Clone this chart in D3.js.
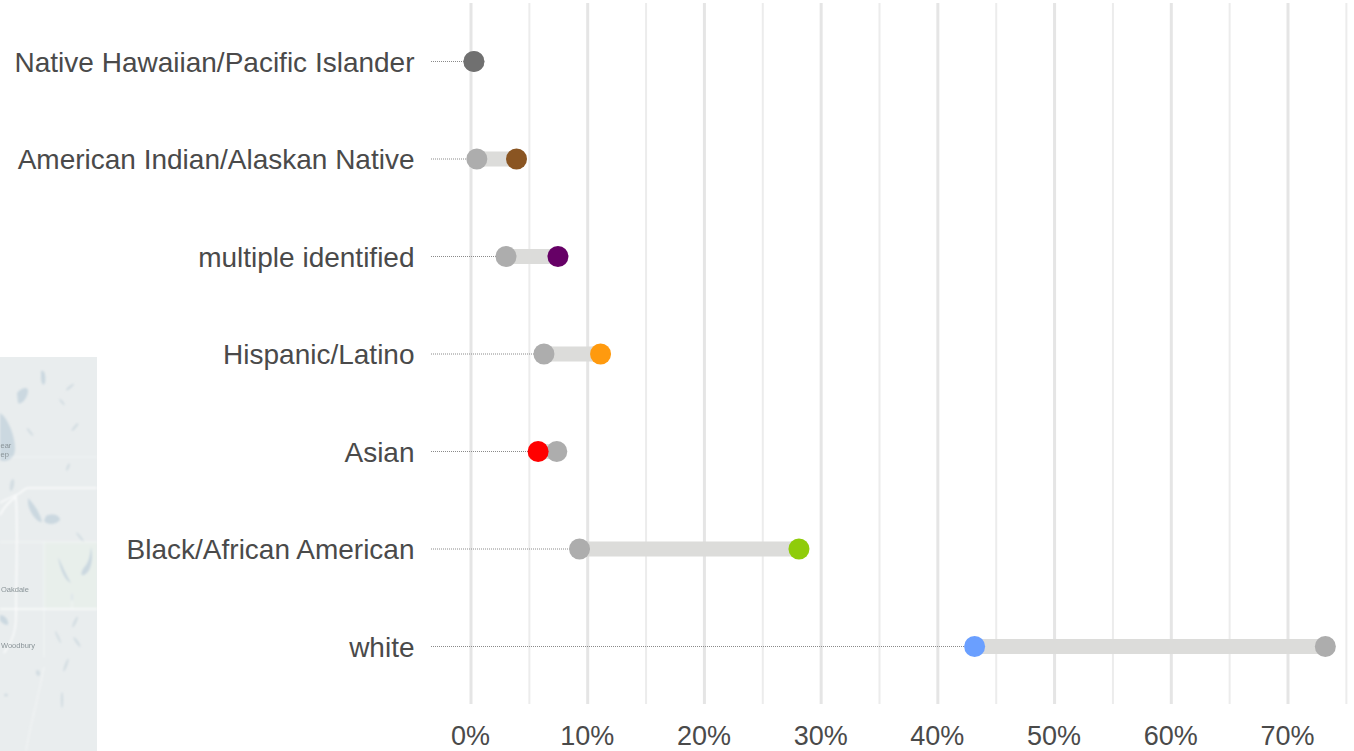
<!DOCTYPE html>
<html>
<head>
<meta charset="utf-8">
<style>
html,body{margin:0;padding:0;background:#fff;overflow:hidden}
svg{display:block}
text{font-family:"Liberation Sans",Arial,sans-serif;fill:#4a4a4a}
</style>
<script src="https://cdn.jsdelivr.net/npm/d3@7/dist/d3.min.js"></script>
</head>
<body>
<svg id="chart" width="1354" height="751"></svg>
<script>
// Share of each group, as percentages: the grey dot and the coloured dot per row.
const groups = ["Native Hawaiian/Pacific Islander","American Indian/Alaskan Native","multiple identified","Hispanic/Latino","Asian","Black/African American","white"];
const baseShare = [0.25,0.5,3.0,6.25,7.35,9.3,73.2];
const groupShare = [0.25,3.9,7.45,11.1,5.75,28.1,43.15];
const groupColors = ["#707070","#8a5522","#660066","#ff9a0e","#ff0000","#8fcc0a","#6a9fff"];
const majorTicks = [0,10,20,30,40,50,60,70];
const minorTicks = [5,15,25,35,45,55,65,75];

// Street-map fragment behind the lower left corner, in its own local units.
const mapLakes = [
  "M0,56 C7,60 15,78 15,92 C15,102 6,106 0,103Z",
  "M17,36 C22,30 29,29 28,35 C27,42 21,48 18,46Z",
  "M41,14 C45,12 46,20 45,26 C43,30 41,26 41,20Z",
  "M28,141 C33,146 40,155 42,165 C37,166 29,155 28,146Z",
  "M46,159 C52,156 60,158 60,163 C56,168 47,168 44,164Z",
  "M91,190 C94,204 90,216 84,218 C79,220 82,212 86,208 C90,202 90,196 91,190Z",
  "M58,200 C62,208 66,218 71,226 C65,224 60,212 58,200Z",
  "M0,258 C4,258 9,262 8,268 C4,268 1,265 0,263Z"
];
const mapSpecks = [
  {x:75,y:265,rx:1.4,ry:6,a:25},{x:77,y:285,rx:1.4,ry:6,a:-35},{x:66,y:308,rx:1.3,ry:7,a:20},
  {x:62,y:343,rx:1.2,ry:8,a:0},{x:38,y:316,rx:2,ry:3,a:-20},{x:58,y:280,rx:1,ry:7,a:-25},
  {x:70,y:30,rx:1.2,ry:5,a:50},{x:62,y:45,rx:1,ry:4,a:-40},{x:75,y:70,rx:1.2,ry:5,a:40},
  {x:30,y:75,rx:1,ry:5,a:-40},{x:68,y:110,rx:1.2,ry:4,a:20},{x:12,y:128,rx:2,ry:6,a:10},
  {x:80,y:180,rx:1,ry:6,a:-40},{x:72,y:240,rx:1,ry:4,a:0},{x:6,y:338,rx:2,ry:1.5,a:0}
];
const mapRoads = [
  {d:"M0,146 C6,142 12,140 16,138 C22,136 24,131 28,131 L97,131",w:1.4},
  {d:"M0,158 C4,150 10,144 16,140 C18,170 16,220 16,260 C16,275 12,285 4,296",w:1.6},
  {d:"M0,252 L97,252",w:1.5},
  {d:"M0,185 L97,185",w:0.6},
  {d:"M0,100 L97,100",w:0.4},
  {d:"M44,185 L44,300 M72,236 L72,252",w:0.5},
  {d:"M26,394 C30,370 36,350 44,310",w:0.6}
];
const mapTowns = [
  {name:"Oakdale",x:1,y:235},
  {name:"Woodbury",x:1,y:291},
  {name:"ear",x:0.5,y:91},
  {name:"ep",x:0.5,y:100}
];

const svg = d3.select("#chart");
const chartTop = 3, chartBottom = 704, firstRow = 61.5, lastRow = 646.5;
const x = d3.scaleLinear().domain([0,70]).range([471,1288]);
const y = d3.scalePoint().domain(groups).range([firstRow,lastRow]);

// Map fragment
const defs = svg.append("defs");
defs.append("filter").attr("id","soft").append("feGaussianBlur").attr("stdDeviation",0.8);
defs.append("filter").attr("id","softText").append("feGaussianBlur").attr("stdDeviation",0.25);
defs.append("clipPath").attr("id","mapClip").append("rect").attr("width",97).attr("height",394);
const map = svg.append("g").attr("transform","translate(0,357)");
map.append("rect").attr("width",97).attr("height",394).attr("fill","#e9edee");
const mapInner = map.append("g").attr("clip-path","url(#mapClip)").append("g").attr("filter","url(#soft)");
mapInner.append("rect").attr("x",44).attr("y",185).attr("width",53).attr("height",67).attr("fill","#e8efeb");
mapInner.selectAll("path.lake").data(mapLakes).join("path")
  .attr("class","lake").attr("d",d=>d).attr("fill","#cbd8e0");
mapInner.selectAll("ellipse").data(mapSpecks).join("ellipse")
  .attr("transform",d=>`translate(${d.x},${d.y}) rotate(${d.a})`)
  .attr("rx",d=>d.rx).attr("ry",d=>d.ry).attr("fill","#d3dde2");
mapInner.selectAll("path.road").data(mapRoads).join("path")
  .attr("class","road").attr("d",d=>d.d).attr("fill","none")
  .attr("stroke","#fbfcfc").attr("stroke-width",d=>d.w);
map.append("g").attr("filter","url(#softText)").selectAll("text").data(mapTowns).join("text")
  .attr("x",d=>d.x).attr("y",d=>d.y).attr("font-size",7.5)
  .style("fill","#8a9498").text(d=>d.name);

// Vertical grid
svg.append("g").selectAll("line.minor").data(minorTicks).join("line")
  .attr("class","minor").attr("x1",d=>x(d)).attr("x2",d=>x(d))
  .attr("y1",chartTop).attr("y2",chartBottom)
  .attr("stroke","#ececec").attr("stroke-width",2);
svg.append("g").selectAll("line.major").data(majorTicks).join("line")
  .attr("class","major").attr("x1",d=>x(d)).attr("x2",d=>x(d))
  .attr("y1",chartTop).attr("y2",chartBottom)
  .attr("stroke","#e5e5e5").attr("stroke-width",3);

// X axis labels
const xAxis = d3.axisBottom(x).tickValues(majorTicks).tickFormat(d=>d+"%").tickSize(0).tickPadding(0);
const axisG = svg.append("g").attr("transform","translate(-1,727)").call(xAxis);
axisG.select(".domain").remove();
axisG.selectAll("text").attr("font-size",27).attr("dy","0.65em").attr("y",0)
  .style("font-family","'Liberation Sans',Arial,sans-serif").style("fill","#4a4a4a");

const rows = groups.map((g,i)=>({g,base:baseShare[i],share:groupShare[i],color:groupColors[i]}));

// Dotted leader from the label to the leftmost dot
svg.append("g").selectAll("line").data(rows).join("line")
  .attr("x1",431).attr("x2",d=>x(Math.min(d.base,d.share)))
  .attr("y1",d=>y(d.g)).attr("y2",d=>y(d.g))
  .attr("stroke","#8a8a8a").attr("stroke-width",1).attr("stroke-dasharray","1 1");

// Connector between the two shares
svg.append("g").selectAll("line").data(rows).join("line")
  .attr("x1",d=>x(d.base)).attr("x2",d=>x(d.share))
  .attr("y1",d=>y(d.g)).attr("y2",d=>y(d.g))
  .attr("stroke","#dcdcda").attr("stroke-width",15);

// Dots
const r = 10.5;
svg.append("g").selectAll("circle").data(rows).join("circle")
  .attr("cx",d=>x(d.base)).attr("cy",d=>y(d.g)).attr("r",r).attr("fill","#adadad");
svg.append("g").selectAll("circle").data(rows).join("circle")
  .attr("cx",d=>x(d.share)).attr("cy",d=>y(d.g)).attr("r",r).attr("fill",d=>d.color);

// Row labels
svg.append("g").selectAll("text").data(rows).join("text")
  .attr("x",414.5).attr("y",d=>y(d.g)+0.5).attr("dy","0.35em")
  .attr("text-anchor","end").attr("font-size",28).text(d=>d.g);
</script>
</body>
</html>
